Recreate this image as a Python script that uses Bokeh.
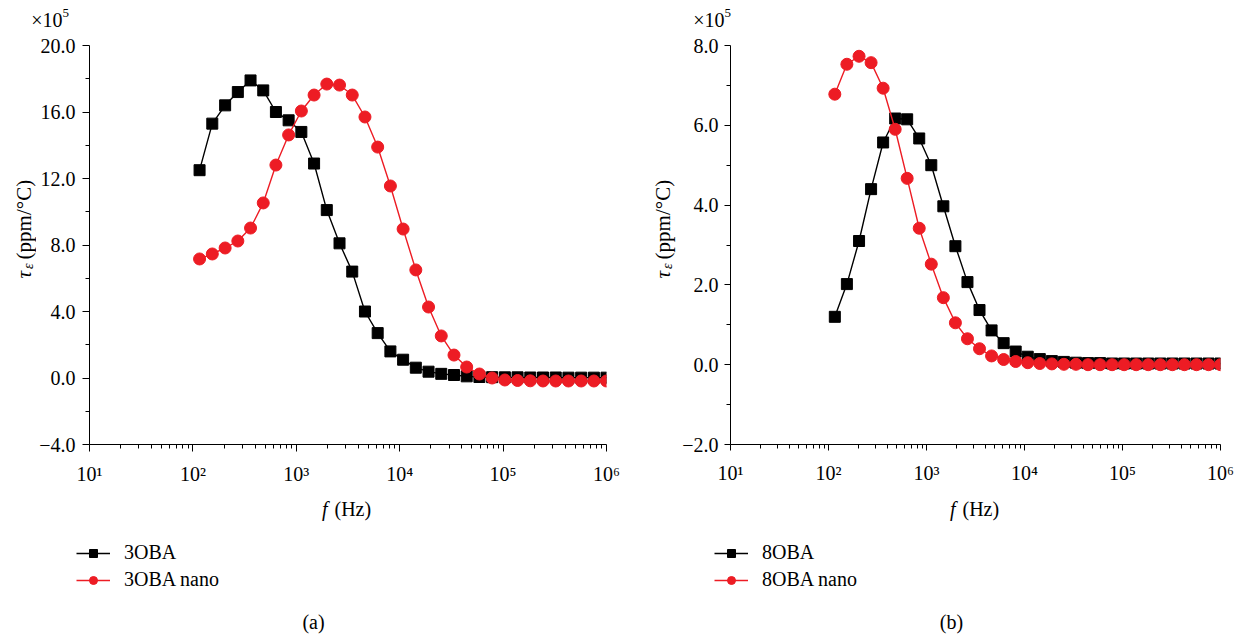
import math
from bokeh.plotting import figure
from bokeh.layouts import row, column
from bokeh.models import Label, FixedTicker, CustomJSTickFormatter, Range1d
from bokeh.embed import file_html
from bokeh.resources import INLINE

# ---------------- data (tau_eps in units of 1e5 ppm/°C) ----------------
freq = [116, 154, 205, 272, 361, 479, 635, 843, 1119, 1486, 1972, 2618, 3475,
        4613, 6124, 8128, 10790, 14320, 19010, 25230, 33500, 44460, 59020,
        78340, 104000, 138000, 183200, 243200, 322800, 428500, 568900,
        755100, 1000000]

oba3 = [12.5, 15.3, 16.4, 17.2, 17.9, 17.3, 16.0, 15.5, 14.8, 12.9, 10.1, 8.1,
        6.4, 4.0, 2.7, 1.6, 1.1, 0.62, 0.38, 0.25, 0.18, 0.10, 0.06, 0.05,
        0.04, 0.04, 0.03, 0.03, 0.03, 0.02, 0.02, 0.02, 0.02]
oba3_nano = [7.16, 7.46, 7.82, 8.24, 9.02, 10.53, 12.81, 14.62, 16.06, 17.02,
             17.68, 17.62, 17.02, 15.70, 13.89, 11.55, 8.96, 6.50, 4.27, 2.53,
             1.38, 0.66, 0.24, 0.0, -0.12, -0.15, -0.17, -0.18, -0.18, -0.18,
             -0.18, -0.18, -0.18]
oba8 = [1.2, 2.02, 3.1, 4.4, 5.57, 6.17, 6.15, 5.67, 5.0, 3.97, 2.97, 2.07,
        1.37, 0.86, 0.54, 0.33, 0.2, 0.14, 0.09, 0.07, 0.05, 0.04, 0.04, 0.03,
        0.03, 0.03, 0.03, 0.03, 0.03, 0.03, 0.03, 0.03, 0.03]
oba8_nano = [6.78, 7.53, 7.73, 7.57, 6.93, 5.9, 4.67, 3.42, 2.52, 1.68, 1.05,
             0.65, 0.4, 0.22, 0.13, 0.08, 0.05, 0.03, 0.02, 0.01, 0.01, 0.0,
             0.0, 0.0, 0.0, 0.0, 0.0, 0.0, 0.0, 0.0, 0.0, 0.0, 0.0]

x_major = [10, 100, 1000, 10000, 100000, 1000000]
x_minor = [m * 10 ** k for k in range(1, 6) for m in range(2, 10)]

FONT = "Liberation Serif"
BLACK = "#000000"
RED = "#ED1C24"
FS = "20px"

TOP_H, MID_H, BOT_H = 33, 457, 145   # page rows: 0-33, 33-490, 490-635

xfmt = CustomJSTickFormatter(code="""
const sup = {"0":"\u2070","1":"\u00b9","2":"\u00b2","3":"\u00b3","4":"\u2074",
             "5":"\u2075","6":"\u2076","7":"\u2077","8":"\u2078","9":"\u2079"};
const e = Math.round(Math.log10(tick));
return "10" + String(e).split("").map(c => sup[c]).join("");
""")
yfmt = CustomJSTickFormatter(code="""
return (tick < -1e-9 ? "\u2212" : "") + Math.abs(tick).toFixed(1);
""")


def strip(w, h):
    s = figure(width=w, height=h, x_range=Range1d(0, w), y_range=Range1d(0, h),
               output_backend="svg", toolbar_location=None,
               x_axis_location=None, y_axis_location=None,
               min_border=0, min_border_left=0, min_border_right=0,
               min_border_top=0, min_border_bottom=0)
    s.outline_line_color = None
    s.xgrid.visible = False
    s.ygrid.visible = False
    s.background_fill_color = "white"
    s.border_fill_color = "white"
    return s


def lbl(fig, x, y, text, **kw):
    opts = dict(text_font=FONT, text_font_size=FS, text_color=BLACK,
                text_baseline="middle")
    opts.update(kw)
    fig.add_layout(Label(x=x, y=y, text=text, **opts))


def panel(S, B, F, R, y0, y1, yticks, yminor, s1, s2, lab1, lab2, cap,
          tick_out, standoff, ylab_x, exp_x, f_x, leg_x, cap_x):
    W = S + B + F + R
    # ---- main plot ----
    p = figure(width=B + F + R, height=MID_H, x_axis_type="log",
               x_range=Range1d(10, 1e6), y_range=Range1d(y0, y1),
               output_backend="svg", toolbar_location=None,
               min_border_left=B, min_border_right=R, min_border_top=12,
               min_border_bottom=MID_H - 12 - 399)
    p.outline_line_color = None
    p.xgrid.visible = False
    p.ygrid.visible = False
    p.background_fill_color = "white"
    p.border_fill_color = "white"
    for ax in (p.xaxis[0], p.yaxis[0]):
        ax.axis_line_color = BLACK
        ax.axis_line_width = 1
        ax.major_tick_line_color = BLACK
        ax.minor_tick_line_color = BLACK
        ax.major_tick_in = 0
        ax.major_tick_out = tick_out
        ax.minor_tick_in = 0
        ax.minor_tick_out = 4
        ax.major_label_text_font = FONT
        ax.major_label_text_font_size = FS
        ax.major_label_text_color = BLACK
        ax.axis_label = None
    p.xaxis.ticker = FixedTicker(ticks=x_major, minor_ticks=x_minor)
    p.xaxis.formatter = xfmt
    p.xaxis.major_label_standoff = 11
    p.yaxis.ticker = FixedTicker(ticks=yticks, minor_ticks=yminor)
    p.yaxis.formatter = yfmt
    p.yaxis.major_label_standoff = standoff

    p.line(freq, s1, line_color=BLACK, line_width=1.4)
    p.scatter(freq, s1, marker="square", size=11, fill_color=BLACK,
              line_color=BLACK)
    p.line(freq, s2, line_color=RED, line_width=1.4)
    p.scatter(freq, s2, marker="circle", size=12, fill_color=RED,
              line_color=RED)

    # ---- y-axis title strip (data units = pixels, y from bottom) ----
    yl = strip(S, MID_H)
    lbl(yl, ylab_x, MID_H - (300 - TOP_H), "\u03c4", text_align="left",
        angle=math.pi / 2, text_font_style="italic", text_font_size="21px")
    lbl(yl, ylab_x + 5, MID_H - (289 - TOP_H), "\u03b5", text_align="left",
        angle=math.pi / 2, text_font_style="italic", text_font_size="14px")
    lbl(yl, ylab_x, MID_H - (278 - TOP_H), "(ppm/\u00b0C)", text_align="left",
        angle=math.pi / 2, text_font_size="21px")

    # ---- top strip: exponent ----
    tp = strip(W, TOP_H)
    lbl(tp, exp_x + 10, TOP_H - 19, "\u00d710", text_align="right",
        text_font_size="20px")
    lbl(tp, exp_x + 10, TOP_H - 12, "5", text_align="left",
        text_font_size="13px")

    # ---- bottom strip: x title, legend, caption ----
    bt = strip(W, BOT_H)
    lbl(bt, f_x, BOT_H - 508 + 490, "f", text_align="right",
        text_font_style="italic")
    lbl(bt, f_x + 7, BOT_H - 508 + 490, "(Hz)", text_align="left")
    lbl(bt, cap_x, BOT_H - 621 + 490, cap, text_align="center")
    # legend keys: one hidden point each, placed outside the strip's view
    hx, hy = [-1000], [-1000]
    bt.line(hx, hy, line_color=BLACK, line_width=1.4, legend_label=lab1)
    bt.scatter(hx, hy, marker="square", size=11, fill_color=BLACK,
               line_color=BLACK, legend_label=lab1)
    bt.line(hx, hy, line_color=RED, line_width=1.4, legend_label=lab2)
    bt.scatter(hx, hy, marker="circle", size=12, fill_color=RED,
               line_color=RED, legend_label=lab2)
    lg = bt.legend[0]
    lg.location = (leg_x, BOT_H - 591 + 490)
    lg.label_text_font = FONT
    lg.label_text_font_size = FS
    lg.label_text_color = BLACK
    lg.glyph_width = 34
    lg.glyph_height = 20
    lg.label_height = 20
    lg.spacing = 4
    lg.padding = 0
    lg.margin = 0
    lg.label_standoff = 14
    lg.border_line_alpha = 0
    lg.background_fill_alpha = 0

    return column(tp, row(yl, p, spacing=0), bt, spacing=0)


left = panel(36, 52, 518, 14, -4, 20, [-4, 0, 4, 8, 12, 16, 20],
             [-2, 2, 6, 10, 14, 18], oba3, oba3_nano, "3OBA", "3OBA nano",
             "(a)", 7, 7, 23, 52, 327, 76, 313)
right = panel(59, 48, 493, 14, -2, 8, [-2, 0, 2, 4, 6, 8], [-1, 1, 3, 5, 7],
              oba8, oba8_nano, "8OBA", "8OBA nano", "(b)", 6, 6, 42, 94,
              335, 94, 331)

layout = row(left, right, spacing=0)
open("out.html", "w").write(file_html(layout, INLINE))
